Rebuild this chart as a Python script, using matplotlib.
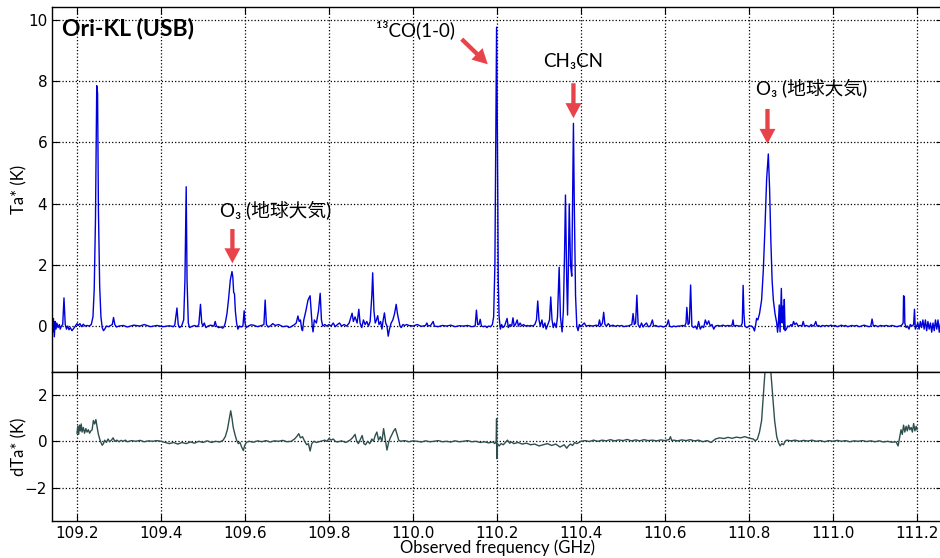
import matplotlib
matplotlib.use('Agg')
import matplotlib.pyplot as plt
import numpy as np

# spectrum vertices: (frequency GHz, Ta* K)
ta_points = [
    (109.140, 0.30), (109.142, -0.20), (109.144, 0.25), (109.146, -0.35), (109.148, 0.15),
    (109.150, -0.10), (109.152, 0.10), (109.155, -0.05), (109.158, 0.05), (109.160, -0.10),
    (109.163, 0.00), (109.166, 0.05), (109.169, 0.92), (109.172, 0.05), (109.175, -0.10),
    (109.178, 0.00), (109.181, -0.12), (109.184, -0.05), (109.188, -0.15), (109.192, -0.08),
    (109.196, 0.00), (109.200, 0.08), (109.203, 0.02), (109.207, 0.08), (109.211, -0.02),
    (109.215, 0.06), (109.219, 0.00), (109.224, 0.02), (109.229, 0.00), (109.234, 0.05),
    (109.238, 0.30), (109.241, 1.20), (109.244, 3.50), (109.247, 7.85), (109.249, 7.60),
    (109.251, 3.80), (109.254, 1.30), (109.257, 0.30), (109.260, -0.05), (109.263, -0.15),
    (109.266, -0.10), (109.270, 0.00), (109.275, -0.02), (109.280, 0.02), (109.284, 0.05),
    (109.287, 0.28), (109.290, 0.05), (109.294, -0.03), (109.300, 0.00), (109.310, 0.02),
    (109.320, -0.03), (109.335, 0.03), (109.350, 0.00), (109.360, 0.05), (109.375, -0.02),
    (109.390, 0.02), (109.405, -0.02), (109.420, 0.01), (109.430, -0.02), (109.433, 0.05),
    (109.438, 0.59), (109.441, 0.05), (109.444, -0.05), (109.449, 0.00), (109.454, 0.20),
    (109.457, 1.50), (109.460, 4.55), (109.462, 1.50), (109.465, 0.10), (109.468, -0.05),
    (109.472, -0.02), (109.480, 0.02), (109.486, -0.02), (109.490, 0.05), (109.494, 0.71),
    (109.497, 0.10), (109.500, 0.00), (109.503, 0.10), (109.507, -0.05), (109.512, 0.00),
    (109.518, 0.03), (109.526, 0.00), (109.529, 0.15), (109.532, 0.00), (109.537, -0.05),
    (109.542, -0.03), (109.547, -0.07), (109.550, -0.02), (109.553, 0.10), (109.557, 0.40),
    (109.561, 0.90), (109.565, 1.50), (109.569, 1.78), (109.571, 1.60), (109.573, 1.10),
    (109.575, 1.05), (109.577, 0.50), (109.580, 0.10), (109.583, -0.10), (109.587, 0.00),
    (109.591, -0.03), (109.595, 0.00), (109.598, 0.50), (109.600, 0.10), (109.603, -0.05),
    (109.608, 0.00), (109.614, 0.04), (109.620, 0.03), (109.630, -0.02), (109.640, 0.02),
    (109.645, 0.05), (109.648, 0.85), (109.651, 0.05), (109.655, -0.03), (109.660, 0.00),
    (109.666, 0.08), (109.672, 0.02), (109.680, 0.05), (109.690, -0.02), (109.700, 0.00),
    (109.705, -0.05), (109.710, -0.02), (109.718, 0.05), (109.722, 0.10), (109.726, 0.33),
    (109.729, 0.15), (109.732, 0.20), (109.735, -0.10), (109.737, -0.15), (109.740, 0.20),
    (109.745, 0.50), (109.750, 0.85), (109.755, 0.99), (109.758, 0.40), (109.760, 0.00),
    (109.762, -0.19), (109.765, 0.20), (109.770, 0.10), (109.775, 0.50), (109.779, 1.07),
    (109.782, 0.20), (109.785, 0.00), (109.790, 0.05), (109.795, 0.00), (109.800, 0.05),
    (109.805, 0.00), (109.810, 0.10), (109.815, -0.02), (109.820, 0.05), (109.825, 0.10),
    (109.830, 0.00), (109.836, 0.05), (109.842, 0.00), (109.848, 0.10), (109.855, 0.42),
    (109.858, 0.15), (109.862, 0.30), (109.867, 0.10), (109.871, 0.55), (109.874, 0.10),
    (109.878, -0.05), (109.882, 0.20), (109.886, 0.05), (109.890, 0.15), (109.894, 0.00),
    (109.898, 0.15), (109.902, 1.00), (109.904, 1.74), (109.907, 0.50), (109.910, 0.10),
    (109.913, 0.20), (109.916, 0.34), (109.919, 0.05), (109.923, 0.15), (109.926, -0.10),
    (109.929, 0.20), (109.932, 0.43), (109.935, 0.10), (109.938, 0.00), (109.941, -0.33),
    (109.944, -0.10), (109.948, 0.10), (109.952, 0.20), (109.956, 0.40), (109.960, 0.71),
    (109.963, 0.40), (109.966, 0.20), (109.969, 0.00), (109.972, -0.05), (109.976, 0.05),
    (109.980, 0.02), (109.985, 0.05), (109.990, 0.02), (110.000, 0.00), (110.010, 0.05),
    (110.020, -0.01), (110.030, 0.02), (110.033, 0.10), (110.036, 0.00), (110.042, 0.02),
    (110.048, 0.15), (110.051, 0.00), (110.060, -0.02), (110.070, 0.02), (110.080, 0.00),
    (110.090, 0.03), (110.100, -0.02), (110.110, 0.01), (110.120, 0.00), (110.130, 0.02),
    (110.140, -0.02), (110.148, 0.00), (110.151, 0.52), (110.154, 0.05), (110.157, 0.05),
    (110.160, 0.22), (110.163, 0.00), (110.167, -0.02), (110.172, 0.00), (110.176, -0.05),
    (110.180, 0.00), (110.185, -0.02), (110.189, 0.05), (110.192, 0.30), (110.195, 2.00),
    (110.197, 6.00), (110.199, 9.76), (110.201, 6.00), (110.203, 1.50), (110.205, 0.30),
    (110.208, -0.10), (110.211, 0.05), (110.214, -0.05), (110.218, 0.00), (110.224, 0.25),
    (110.227, -0.05), (110.231, 0.05), (110.235, 0.00), (110.238, 0.27), (110.241, 0.00),
    (110.244, 0.05), (110.248, 0.20), (110.251, 0.00), (110.255, 0.10), (110.259, 0.00),
    (110.263, 0.05), (110.268, 0.00), (110.272, 0.02), (110.276, 0.00), (110.280, 0.02),
    (110.285, 0.00), (110.290, 0.05), (110.294, 0.20), (110.297, 0.82), (110.300, 0.20),
    (110.303, 0.00), (110.307, 0.20), (110.310, -0.05), (110.314, 0.10), (110.317, -0.10),
    (110.321, 0.05), (110.325, 0.20), (110.328, 0.95), (110.331, 0.20), (110.334, -0.05),
    (110.337, 0.10), (110.341, -0.05), (110.344, 0.30), (110.348, 1.92), (110.351, 0.30),
    (110.355, -0.19), (110.358, 0.50), (110.361, 2.50), (110.363, 4.28), (110.366, 1.50),
    (110.368, 0.36), (110.370, 2.00), (110.372, 3.99), (110.375, 2.00), (110.378, 1.63),
    (110.380, 4.00), (110.382, 6.62), (110.384, 4.00), (110.387, 1.00), (110.390, 0.00),
    (110.393, -0.15), (110.396, 0.05), (110.400, -0.02), (110.404, 0.05), (110.408, 0.10),
    (110.412, 0.00), (110.420, 0.02), (110.428, 0.00), (110.436, 0.03), (110.441, 0.00),
    (110.444, 0.20), (110.447, 0.00), (110.451, 0.10), (110.454, 0.45), (110.457, 0.05),
    (110.461, 0.00), (110.465, 0.08), (110.470, 0.00), (110.476, 0.03), (110.482, -0.01),
    (110.487, 0.02), (110.492, 0.00), (110.497, 0.02), (110.502, -0.02), (110.507, 0.00),
    (110.512, 0.00), (110.517, 0.03), (110.521, 0.05), (110.524, 0.41), (110.527, 0.05),
    (110.530, 0.10), (110.533, 1.01), (110.536, 0.05), (110.540, -0.05), (110.544, 0.10),
    (110.548, -0.03), (110.552, 0.05), (110.556, 0.10), (110.560, -0.02), (110.565, 0.00),
    (110.570, 0.20), (110.573, 0.00), (110.578, 0.02), (110.584, -0.02), (110.590, 0.00),
    (110.596, -0.03), (110.602, 0.00), (110.605, 0.05), (110.608, 0.20), (110.611, 0.00),
    (110.616, -0.03), (110.621, 0.00), (110.626, -0.02), (110.631, 0.00), (110.636, 0.00),
    (110.642, 0.02), (110.647, 0.00), (110.650, 0.10), (110.652, 0.61), (110.655, 0.05),
    (110.658, 0.10), (110.661, 1.34), (110.664, 0.00), (110.668, -0.05), (110.672, 0.00),
    (110.676, -0.10), (110.680, 0.15), (110.684, -0.10), (110.688, 0.00), (110.692, -0.05),
    (110.696, 0.20), (110.700, 0.05), (110.704, 0.17), (110.708, 0.00), (110.712, 0.05),
    (110.716, -0.10), (110.720, 0.00), (110.726, 0.02), (110.732, 0.00), (110.738, 0.03),
    (110.744, 0.00), (110.750, 0.02), (110.756, 0.00), (110.760, 0.05), (110.762, 0.20),
    (110.764, 0.00), (110.770, 0.02), (110.776, 0.00), (110.781, 0.00), (110.784, 0.10),
    (110.786, 1.33), (110.788, 0.40), (110.790, 0.00), (110.795, -0.05), (110.800, 0.00),
    (110.806, 0.00), (110.810, -0.05), (110.813, -0.16), (110.816, 0.05), (110.818, 0.25),
    (110.821, 0.20), (110.825, 0.40), (110.830, 0.85), (110.834, 1.80), (110.838, 3.20),
    (110.842, 4.80), (110.846, 5.62), (110.849, 4.50), (110.852, 2.80), (110.855, 1.50),
    (110.858, 0.85), (110.862, 0.40), (110.866, 0.10), (110.868, -0.20), (110.870, 0.10),
    (110.872, 0.69), (110.874, -0.19), (110.877, 1.23), (110.879, 0.10), (110.881, 0.65),
    (110.883, -0.10), (110.884, 0.87), (110.886, -0.15), (110.889, -0.10), (110.892, 0.00),
    (110.896, -0.02), (110.900, 0.05), (110.903, 0.00), (110.906, 0.15), (110.909, 0.05),
    (110.913, 0.10), (110.917, 0.00), (110.922, 0.02), (110.926, 0.00), (110.929, 0.15),
    (110.932, 0.00), (110.936, 0.02), (110.940, 0.00), (110.944, -0.02), (110.948, 0.05),
    (110.952, 0.00), (110.955, 0.02), (110.959, 0.15), (110.962, 0.00), (110.966, 0.02),
    (110.970, -0.02), (110.975, 0.02), (110.980, 0.00), (110.985, 0.02), (110.990, 0.00),
    (110.995, 0.03), (111.000, 0.00), (111.005, 0.02), (111.010, -0.02), (111.015, 0.00),
    (111.020, 0.03), (111.025, 0.00), (111.030, 0.02), (111.035, -0.02), (111.040, 0.00),
    (111.045, 0.02), (111.050, 0.00), (111.056, 0.02), (111.062, -0.02), (111.068, 0.00),
    (111.074, 0.03), (111.080, 0.00), (111.086, -0.02), (111.090, 0.00), (111.093, 0.23),
    (111.096, 0.00), (111.101, 0.02), (111.107, -0.02), (111.113, 0.02), (111.120, 0.00),
    (111.127, 0.02), (111.134, -0.01), (111.140, 0.02), (111.146, 0.00), (111.152, -0.02),
    (111.158, 0.00), (111.163, 0.02), (111.167, 0.10), (111.168, 0.99), (111.170, 0.95),
    (111.171, 0.10), (111.174, -0.05), (111.177, 0.00), (111.181, -0.10), (111.184, 0.05),
    (111.188, 0.00), (111.192, 0.05), (111.194, 0.55), (111.196, -0.10), (111.199, 0.00),
    (111.202, 0.10), (111.205, -0.10), (111.208, 0.15), (111.211, -0.05), (111.214, 0.20),
    (111.217, -0.10), (111.220, 0.20), (111.223, -0.15), (111.226, 0.15), (111.229, -0.10),
    (111.232, 0.10), (111.235, -0.20), (111.238, 0.10), (111.241, -0.15), (111.244, 0.20),
    (111.247, -0.10), (111.250, 0.20), (111.253, -0.20), (111.256, 0.10), (111.262, 0.00),
]

# residual (dTa*) vertices
dta_points = [
    (109.200, 0.35), (109.202, 0.65), (109.204, 0.30), (109.206, 0.70), (109.208, 0.45),
    (109.210, 0.75), (109.212, 0.40), (109.215, 0.60), (109.218, 0.35), (109.221, 0.55),
    (109.224, 0.40), (109.227, 0.50), (109.230, 0.35), (109.233, 0.45), (109.236, 0.50),
    (109.239, 0.90), (109.242, 0.75), (109.245, 0.94), (109.248, 0.60), (109.251, 0.30),
    (109.254, 0.10), (109.257, -0.05), (109.260, -0.17), (109.263, -0.10), (109.266, 0.05),
    (109.270, -0.05), (109.274, 0.10), (109.278, -0.02), (109.282, 0.05), (109.286, 0.15),
    (109.290, 0.00), (109.295, 0.05), (109.300, -0.02), (109.305, 0.04), (109.310, 0.00),
    (109.315, 0.05), (109.320, -0.02), (109.330, 0.03), (109.340, 0.00), (109.350, 0.04),
    (109.360, -0.02), (109.370, 0.02), (109.380, 0.00), (109.390, 0.03), (109.400, 0.00),
    (109.410, -0.05), (109.420, -0.10), (109.430, -0.05), (109.440, -0.12), (109.450, -0.05),
    (109.460, -0.10), (109.470, -0.03), (109.480, -0.08), (109.490, 0.00), (109.500, -0.05),
    (109.510, 0.02), (109.520, -0.05), (109.530, 0.00), (109.540, -0.03), (109.548, 0.05),
    (109.553, 0.20), (109.558, 0.50), (109.562, 0.90), (109.566, 1.32), (109.569, 1.00),
    (109.572, 0.60), (109.576, 0.30), (109.580, 0.05), (109.584, -0.10), (109.588, -0.05),
    (109.592, -0.25), (109.596, -0.40), (109.599, -0.20), (109.603, -0.05), (109.610, 0.00),
    (109.620, -0.04), (109.630, 0.02), (109.640, -0.02), (109.650, 0.03), (109.660, -0.03),
    (109.670, 0.02), (109.680, 0.00), (109.690, 0.04), (109.700, -0.02), (109.710, 0.00),
    (109.718, 0.10), (109.723, 0.20), (109.728, 0.33), (109.732, 0.15), (109.737, 0.20),
    (109.742, 0.00), (109.747, -0.15), (109.751, -0.10), (109.755, -0.42), (109.759, -0.10),
    (109.764, 0.00), (109.770, -0.05), (109.780, 0.00), (109.790, 0.05), (109.795, 0.00),
    (109.800, 0.12), (109.805, 0.05), (109.810, 0.10), (109.815, 0.00), (109.820, -0.03),
    (109.830, 0.02), (109.840, -0.05), (109.850, 0.05), (109.856, 0.15), (109.862, 0.30),
    (109.866, 0.00), (109.870, -0.10), (109.875, 0.10), (109.879, 0.25), (109.883, -0.10),
    (109.887, -0.15), (109.892, 0.00), (109.897, -0.10), (109.902, 0.10), (109.906, 0.00),
    (109.910, 0.25), (109.914, 0.40), (109.918, 0.05), (109.922, 0.20), (109.926, 0.00),
    (109.930, 0.55), (109.934, 0.10), (109.938, -0.38), (109.942, -0.05), (109.946, 0.15),
    (109.950, 0.30), (109.954, 0.45), (109.958, 0.55), (109.962, 0.30), (109.966, 0.05),
    (109.970, 0.00), (109.980, 0.03), (109.990, -0.02), (110.000, 0.02), (110.010, 0.00),
    (110.020, -0.03), (110.030, 0.02), (110.040, -0.02), (110.050, 0.00), (110.060, 0.03),
    (110.070, -0.02), (110.080, 0.00), (110.090, -0.03), (110.100, 0.02), (110.110, -0.02),
    (110.120, 0.00), (110.130, 0.03), (110.140, -0.02), (110.150, 0.00), (110.160, -0.05),
    (110.170, -0.02), (110.180, -0.07), (110.190, -0.03), (110.195, -0.10), (110.198, 0.00),
    (110.199, 0.98), (110.200, -0.75), (110.201, -0.10), (110.205, -0.20), (110.210, -0.10),
    (110.215, -0.15), (110.220, -0.05), (110.225, 0.05), (110.230, -0.08), (110.235, -0.03),
    (110.240, -0.10), (110.250, -0.05), (110.260, -0.12), (110.270, -0.08), (110.280, -0.15),
    (110.290, -0.12), (110.300, -0.20), (110.310, -0.15), (110.320, -0.10), (110.330, -0.18),
    (110.340, -0.12), (110.350, -0.25), (110.360, -0.15), (110.366, -0.30), (110.370, -0.20),
    (110.375, -0.12), (110.380, -0.18), (110.385, -0.05), (110.390, -0.10), (110.400, 0.00),
    (110.410, 0.03), (110.420, -0.01), (110.430, 0.05), (110.440, 0.00), (110.450, 0.05),
    (110.460, 0.02), (110.470, 0.07), (110.480, 0.02), (110.490, 0.06), (110.500, 0.03),
    (110.510, 0.08), (110.520, 0.02), (110.530, 0.06), (110.540, 0.02), (110.550, 0.07),
    (110.560, 0.03), (110.570, 0.05), (110.580, 0.02), (110.590, 0.06), (110.600, 0.03),
    (110.610, 0.08), (110.613, 0.20), (110.616, 0.03), (110.620, 0.05), (110.630, 0.02),
    (110.640, 0.06), (110.650, 0.03), (110.660, 0.07), (110.670, 0.02), (110.680, 0.05),
    (110.690, -0.02), (110.700, 0.03), (110.710, -0.05), (110.720, 0.10), (110.730, 0.15),
    (110.740, 0.12), (110.750, 0.17), (110.760, 0.13), (110.770, 0.18), (110.780, 0.15),
    (110.790, 0.20), (110.800, 0.14), (110.810, 0.10), (110.815, 0.02), (110.820, 0.10),
    (110.825, 0.40), (110.830, 0.90), (110.838, 3.00), (110.845, 4.20), (110.852, 3.00),
    (110.861, 0.90), (110.866, 0.20), (110.870, -0.05), (110.874, -0.20), (110.878, -0.10),
    (110.882, -0.15), (110.886, 0.00), (110.890, 0.05), (110.900, 0.02), (110.910, 0.05),
    (110.920, 0.00), (110.930, 0.04), (110.940, 0.01), (110.950, 0.05), (110.960, 0.00),
    (110.970, 0.03), (110.980, -0.02), (110.990, 0.03), (111.000, 0.00), (111.010, 0.04),
    (111.020, 0.00), (111.030, 0.03), (111.040, -0.02), (111.050, 0.02), (111.060, 0.00),
    (111.070, 0.03), (111.080, -0.01), (111.090, 0.02), (111.100, -0.02), (111.110, 0.02),
    (111.120, -0.03), (111.130, 0.00), (111.140, -0.04), (111.150, -0.02), (111.155, -0.20),
    (111.158, 0.10), (111.162, 0.50), (111.165, 0.30), (111.168, 0.70), (111.171, 0.40),
    (111.174, 0.65), (111.177, 0.45), (111.180, 0.70), (111.183, 0.50), (111.186, 0.60),
    (111.189, 0.40), (111.192, 0.77), (111.195, 0.45), (111.198, 0.65), (111.200, 0.50),
]

x_ticks = [109.2, 109.4, 109.6, 109.8, 110.0, 110.2, 110.4, 110.6, 110.8, 111.0, 111.2]
top_yticks = [0, 2, 4, 6, 8, 10]
bot_yticks = [-2, 0, 2]

# (label, text position, arrow tail, arrow tip)
line_labels = [
    ('O\u2083 (地球大気)', (109.674, 3.79), (109.570, 3.17), (109.570, 2.05)),
    ('\u00b9\u00b3CO(1-0)', (110.007, 9.67), (110.116, 9.37), (110.178, 8.55)),
    ('CH\u2083CN', (110.382, 8.63), (110.382, 7.93), (110.382, 6.79)),
    ('O\u2083 (地球大気)', (110.950, 7.78), (110.844, 7.09), (110.844, 5.95)),
]

label_font = ['Lato', 'Noto Sans CJK JP', 'DejaVu Sans']
arrow_red = '#e8434b'

plt.rcParams['font.family'] = ['DejaVu Sans']
plt.rcParams['xtick.direction'] = 'in'
plt.rcParams['ytick.direction'] = 'in'

fig = plt.figure(figsize=(9.4, 5.58), dpi=100)
W, H = 940.0, 558.0
x_left, x_right = 52.0, 943.0
ax = fig.add_axes([x_left / W, 1 - 372 / H, (x_right - x_left) / W, (372 - 7) / H])
ax2 = fig.add_axes([x_left / W, 1 - 521 / H, (x_right - x_left) / W, (521 - 372) / H], sharex=ax)

f_top = np.array([p[0] for p in ta_points])
t_top = np.array([p[1] for p in ta_points])
f_res = np.array([p[0] for p in dta_points])
t_res = np.array([p[1] for p in dta_points])

ax.plot(f_top, t_top, color='#0000dd', lw=1.0)
ax2.plot(f_res, t_res, color='#2f4f4f', lw=1.0)

xmin = 109.2 + (x_left - 77) / 420.
xmax = 109.2 + (x_right - 77) / 420.
for a in (ax, ax2):
    a.set_xlim(xmin, xmax)
    a.set_xticks(x_ticks)
    a.grid(True, linestyle=':', color='black', lw=0.9)
    a.tick_params(which='major', direction='in', top=True, right=True, length=5, width=0.8,
                  labelsize=11)
    for s in a.spines.values():
        s.set_linewidth(1.0)

ax.set_ylim(-1.5, 10.42)
ax.set_yticks(top_yticks)
ax.tick_params(labelbottom=False)
ax2.set_ylim(-3.45, 3.0)
ax2.set_yticks(bot_yticks)
ax2.set_xticklabels(['%.1f' % v for v in x_ticks])

ax.set_ylabel('Ta* (K)', family=label_font, fontsize=12)
ax2.set_ylabel('dTa* (K)', family=label_font, fontsize=12)
ax2.set_xlabel('Observed frequency (GHz)', family=label_font, fontsize=12)
ax.yaxis.set_label_coords(-0.028, 0.5)
ax2.yaxis.set_label_coords(-0.028, 0.5)
ax2.xaxis.set_label_coords(0.5, -0.125)

ax.text(0.011, 0.94, 'Ori-KL (USB)', transform=ax.transAxes, family=label_font,
        fontsize=16.5, fontweight='bold', ha='left', va='center')

for text, pos, tail, tip in line_labels:
    ax.text(pos[0], pos[1], text, family=label_font, fontsize=13.5, ha='center', va='center')
    ax.annotate('', xy=tip, xytext=tail,
                arrowprops=dict(arrowstyle='simple,head_length=1.08,head_width=1.15,tail_width=0.31',
                                color=arrow_red, mutation_scale=10, shrinkA=0, shrinkB=0, lw=0))

fig.savefig('out.png', dpi=100)
